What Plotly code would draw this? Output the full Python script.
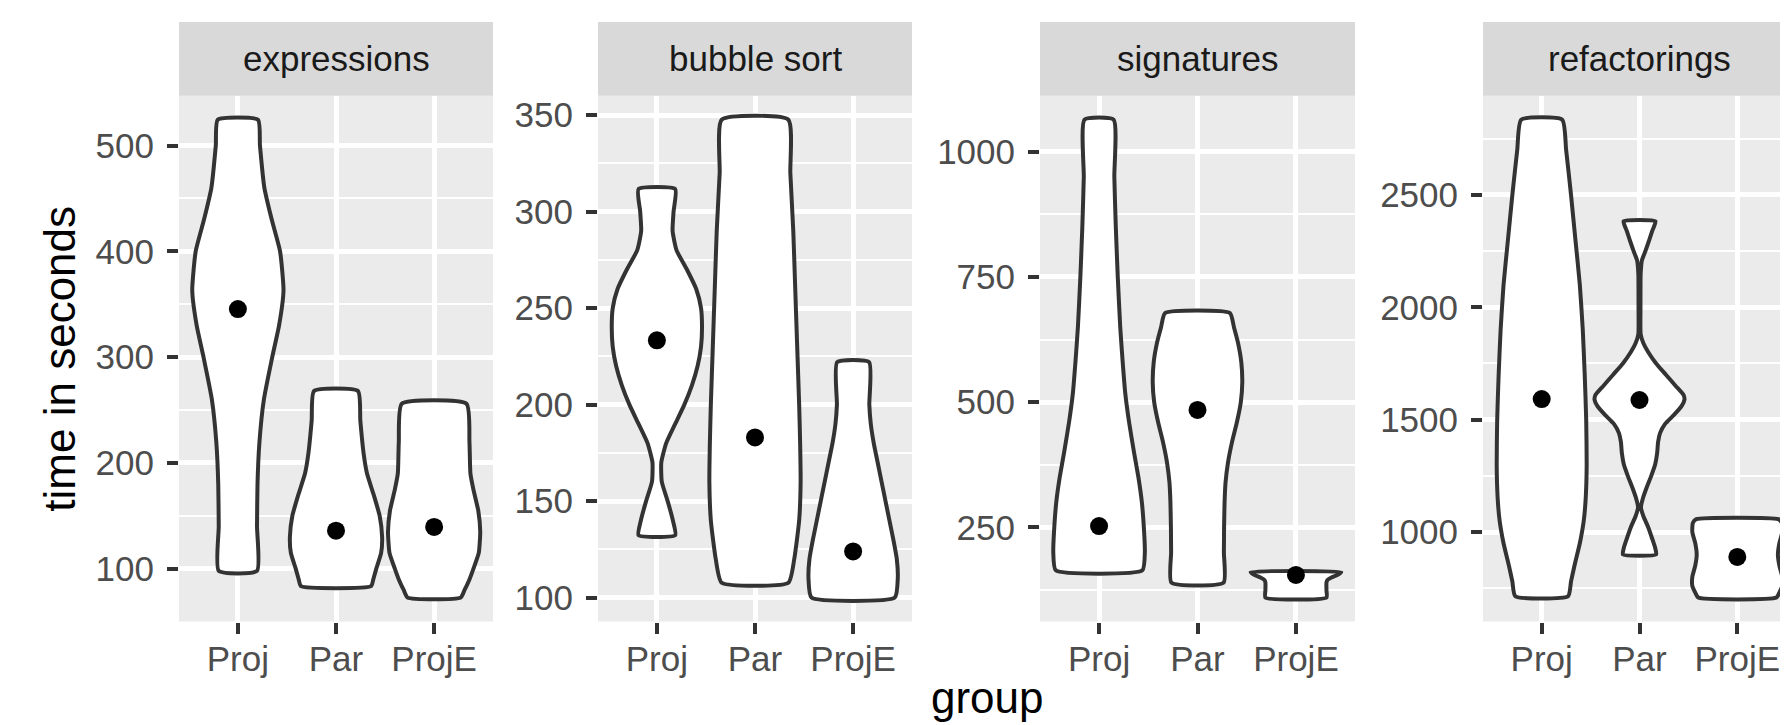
import plotly.graph_objects as go

groups = ["Proj", "Par", "ProjE"]
tasks = ["expressions", "bubble sort", "signatures", "refactorings"]

# violin outlines: time in seconds and half width (in group units)
expr_proj_t = [98, 140, 180, 220, 260, 300, 330, 363, 400, 430, 460, 500, 524.4]
expr_proj_w = [0.195, 0.195, 0.2, 0.22, 0.265, 0.35, 0.42, 0.465, 0.43, 0.345, 0.27, 0.225, 0.205]
expr_par_t = [83.6, 90, 100, 115, 130, 150, 170, 190, 210, 240, 268]
expr_par_w = [0.357, 0.38, 0.41, 0.46, 0.47, 0.445, 0.384, 0.316, 0.28, 0.248, 0.224]
expr_proje_t = [72.8, 80, 90, 100, 115, 135, 155, 175, 190, 220, 256]
expr_proje_w = [0.27, 0.31, 0.36, 0.40, 0.455, 0.47, 0.45, 0.40, 0.37, 0.36, 0.33]

bub_proj_t = [132.3, 140, 150, 160, 170, 180, 190, 200, 210, 220, 230, 240, 250, 260, 270, 280, 290, 300, 311.7]
bub_proj_w = [0.187, 0.163, 0.11, 0.05, 0.045, 0.095, 0.187, 0.28, 0.357, 0.415, 0.45, 0.46, 0.45, 0.40, 0.306, 0.20, 0.16, 0.17, 0.187]
bub_par_t = [107.7, 120, 140, 160, 180, 200, 230, 260, 290, 320, 347.6]
bub_par_w = [0.34, 0.40, 0.45, 0.465, 0.46, 0.45, 0.43, 0.41, 0.39, 0.36, 0.34]
bub_proje_t = [100, 110, 120, 130, 140, 150, 160, 170, 180, 190, 200, 222]
bub_proje_w = [0.425, 0.455, 0.445, 0.41, 0.37, 0.33, 0.29, 0.25, 0.21, 0.18, 0.165, 0.163]

sig_proj_t = [164.5, 200, 250, 300, 350, 400, 460, 520, 580, 650, 750, 850, 950, 1064]
sig_proj_w = [0.44, 0.465, 0.455, 0.435, 0.40, 0.355, 0.305, 0.265, 0.24, 0.215, 0.19, 0.17, 0.155, 0.148]
sig_par_t = [140, 200, 250, 300, 340, 380, 420, 460, 500, 540, 580, 620, 650, 678]
sig_par_w = [0.265, 0.268, 0.27, 0.275, 0.285, 0.31, 0.35, 0.40, 0.44, 0.455, 0.445, 0.41, 0.37, 0.33]
sig_proje_t = [110, 125, 140, 145, 150, 155, 160.8]
sig_proje_w = [0.31, 0.31, 0.31, 0.32, 0.36, 0.42, 0.46]

ref_proj_t = [714, 780, 850, 950, 1050, 1150, 1300, 1500, 1700, 1900, 2100, 2300, 2500, 2700, 2835]
ref_proj_w = [0.27, 0.30, 0.335, 0.39, 0.43, 0.45, 0.46, 0.455, 0.44, 0.42, 0.39, 0.345, 0.30, 0.25, 0.21]
ref_par_t = [900, 930, 970, 1020, 1070, 1110, 1150, 1200, 1250, 1300, 1350, 1400, 1440, 1480, 1520,
             1560, 1590, 1610, 1650, 1700, 1750, 1800, 1840, 1880, 2000, 2150, 2210, 2250, 2300, 2340, 2383]
ref_par_w = [0.17, 0.16, 0.13, 0.09, 0.04, 0.015, 0.035, 0.075, 0.12, 0.16, 0.18, 0.19, 0.21, 0.26, 0.35,
             0.43, 0.46, 0.45, 0.37, 0.27, 0.17, 0.09, 0.04, 0.012, 0.01, 0.012, 0.025, 0.06, 0.10, 0.13, 0.163]
ref_proje_t = [708, 730, 760, 800, 850, 900, 950, 1000, 1040, 1057]
ref_proje_w = [0.40, 0.43, 0.46, 0.46, 0.43, 0.415, 0.43, 0.46, 0.455, 0.42]

# summary points (one per group)
expr_points = [345.5, 136, 139.6]
bub_points = [233.3, 183, 123.9]
sig_points = [252.9, 484.7, 155.3]
ref_points = [1591.7, 1587.5, 888.9]

y_dticks = [100, 50, 250, 500]

violins = [
    [(expr_proj_t, expr_proj_w), (expr_par_t, expr_par_w), (expr_proje_t, expr_proje_w)],
    [(bub_proj_t, bub_proj_w), (bub_par_t, bub_par_w), (bub_proje_t, bub_proje_w)],
    [(sig_proj_t, sig_proj_w), (sig_par_t, sig_par_w), (sig_proje_t, sig_proje_w)],
    [(ref_proj_t, ref_proj_w), (ref_par_t, ref_par_w), (ref_proje_t, ref_proje_w)],
]
points = [expr_points, bub_points, sig_points, ref_points]

W, H = 1788, 725
panel_px = [(171, 485), (590, 904), (1032, 1347), (1475, 1788)]
top_px, bottom_px, strip_top_px = 87.8, 613.5, 13.9
ydom = [1 - bottom_px / H, 1 - top_px / H]

FONT = "Liberation Sans, Arial, sans-serif"
fig = go.Figure()
layout = {}
shapes, annotations = [], []

for i, task in enumerate(tasks):
    n = "" if i == 0 else str(i + 1)
    xa, ya = "x" + n, "y" + n
    all_t = []
    for g, (t, w) in enumerate(violins[i]):
        all_t += t
        xs = [g + v for v in w] + [g - v for v in reversed(w)] + [g + w[0]]
        ys = list(t) + list(reversed(t)) + [t[0]]
        fig.add_trace(go.Scatter(x=xs, y=ys, xaxis=xa, yaxis=ya, mode="lines",
                                 fill="toself", fillcolor="white",
                                 line=dict(color="#333333", width=4, shape="spline", smoothing=0.5),
                                 hoverinfo="skip", showlegend=False))
    fig.add_trace(go.Scatter(x=list(range(len(groups))), y=points[i], xaxis=xa, yaxis=ya,
                             mode="markers", marker=dict(color="black", size=18),
                             showlegend=False))
    lo, hi = min(all_t), max(all_t)
    pad = 0.05 * (hi - lo)
    x0, x1 = panel_px[i]
    layout["xaxis" + n] = dict(
        domain=[x0 / W, x1 / W], anchor=ya, range=[-0.6, len(groups) - 0.4],
        tickvals=list(range(len(groups))), ticktext=groups,
        showgrid=True, gridcolor="white", gridwidth=4.5, zeroline=False,
        ticks="outside", ticklen=11, tickwidth=3.5, tickcolor="#333333",
        ticklabelstandoff=-5,
        tickfont=dict(family=FONT, size=35, color="#4D4D4D"), showline=False)
    layout["yaxis" + n] = dict(
        domain=ydom, anchor=xa, range=[lo - pad, hi + pad],
        tick0=0, dtick=y_dticks[i], tickformat="d",
        showgrid=True, gridcolor="white", gridwidth=4.5, zeroline=False,
        minor=dict(tick0=0, dtick=y_dticks[i] / 2, showgrid=True, gridcolor="white", gridwidth=2.2, ticks=""),
        ticks="outside", ticklen=11, tickwidth=3.5, tickcolor="#333333",
        ticklabelstandoff=6,
        tickfont=dict(family=FONT, size=35, color="#4D4D4D"), showline=False)
    # panel background and strip
    shapes.append(dict(type="rect", xref="paper", yref="paper", x0=x0 / W, x1=x1 / W,
                       y0=ydom[0], y1=ydom[1], fillcolor="#EBEBEB", line=dict(width=0), layer="below"))
    shapes.append(dict(type="rect", xref="paper", yref="paper", x0=x0 / W, x1=x1 / W,
                       y0=ydom[1], y1=1 - strip_top_px / H, fillcolor="#D9D9D9", line=dict(width=0)))
    annotations.append(dict(text=task, xref="paper", yref="paper", x=(x0 + x1) / 2 / W,
                            y=1 - (top_px + strip_top_px) / 2 / H, showarrow=False,
                            xanchor="center", yanchor="middle",
                            font=dict(family=FONT, size=35, color="#1A1A1A")))

annotations.append(dict(text="time in seconds", xref="paper", yref="paper", x=52 / W,
                        y=1 - (top_px + bottom_px) / 2 / H, textangle=-90, showarrow=False,
                        xanchor="center", yanchor="middle", font=dict(family=FONT, size=44, color="black")))
annotations.append(dict(text="group", xref="paper", yref="paper",
                        x=(panel_px[0][0] + panel_px[-1][1]) / 2 / W, y=1 - 689 / H, showarrow=False,
                        xanchor="center", yanchor="middle", font=dict(family=FONT, size=44, color="black")))

fig.update_layout(width=W, height=H, margin=dict(l=0, r=0, t=0, b=0),
                  paper_bgcolor="white", plot_bgcolor="rgba(0,0,0,0)",
                  shapes=shapes, annotations=annotations, **layout)

fig.write_html("out.html")
